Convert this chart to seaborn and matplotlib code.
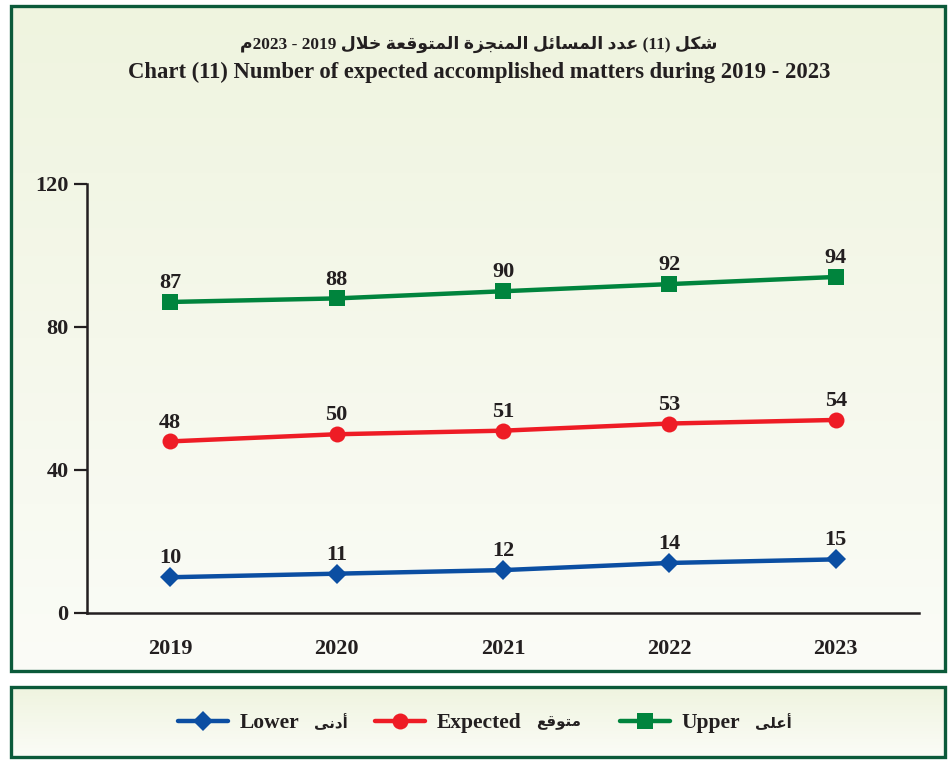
import re
import numpy as np
import pandas as pd
import matplotlib
matplotlib.use("Agg")
import matplotlib.pyplot as plt
from matplotlib.patches import Rectangle
from matplotlib.colors import LinearSegmentedColormap
import seaborn as sns

# ---------------- data ----------------
years = ["2019", "2020", "2021", "2022", "2023"]
lower = [10, 11, 12, 14, 15]
expected = [48, 50, 51, 53, 54]
upper = [87, 88, 90, 92, 94]
y_ticks = [0, 40, 80, 120]
series_en = ["Lower", "Expected", "Upper"]
series_ar = ["أدنى", "متوقع", "أعلى"]
title_ar = "شكل (11) عدد المسائل المنجزة المتوقعة خلال 2019 - 2023م"
title_en = "Chart (11) Number of expected accomplished matters during 2019 - 2023"

# ---------------- minimal Arabic shaping ----------------
AR_FORMS = {
    'ا': ('\uFE8D', '\uFE8E', None, None),
    'أ': ('\uFE83', '\uFE84', None, None),
    'د': ('\uFEA9', '\uFEAA', None, None),
    'ز': ('\uFEAF', '\uFEB0', None, None),
    'و': ('\uFEED', '\uFEEE', None, None),
    'ة': ('\uFE93', '\uFE94', None, None),
    'ى': ('\uFEEF', '\uFEF0', None, None),
    'ش': ('\uFEB5', '\uFEB6', '\uFEB7', '\uFEB8'),
    'ك': ('\uFED9', '\uFEDA', '\uFEDB', '\uFEDC'),
    'ل': ('\uFEDD', '\uFEDE', '\uFEDF', '\uFEE0'),
    'ع': ('\uFEC9', '\uFECA', '\uFECB', '\uFECC'),
    'م': ('\uFEE1', '\uFEE2', '\uFEE3', '\uFEE4'),
    'س': ('\uFEB1', '\uFEB2', '\uFEB3', '\uFEB4'),
    'ئ': ('\uFE89', '\uFE8A', '\uFE8B', '\uFE8C'),
    'ن': ('\uFEE5', '\uFEE6', '\uFEE7', '\uFEE8'),
    'ج': ('\uFE9D', '\uFE9E', '\uFE9F', '\uFEA0'),
    'ت': ('\uFE95', '\uFE96', '\uFE97', '\uFE98'),
    'ق': ('\uFED5', '\uFED6', '\uFED7', '\uFED8'),
    'خ': ('\uFEA5', '\uFEA6', '\uFEA7', '\uFEA8'),
}
LAM_ALEF = {'ا': ('\uFEFB', '\uFEFC'), 'أ': ('\uFEF7', '\uFEF8')}


def shape_word(w):
    units = []
    i = 0
    while i < len(w):
        c = w[i]
        if c == 'ل' and i + 1 < len(w) and w[i + 1] in LAM_ALEF:
            units.append(('LA', w[i + 1]))
            i += 2
        else:
            units.append(('C', c))
            i += 1

    def joins_left(u):
        if u[0] == 'LA':
            return False
        return u[1] in AR_FORMS and AR_FORMS[u[1]][2] is not None

    def is_ar(u):
        return u[0] == 'LA' or u[1] in AR_FORMS

    out = []
    for k, u in enumerate(units):
        prev = k > 0 and joins_left(units[k - 1])
        nxt = k + 1 < len(units) and is_ar(units[k + 1])
        if u[0] == 'LA':
            out.append(LAM_ALEF[u[1]][1 if prev else 0])
            continue
        c = u[1]
        if c not in AR_FORMS:
            out.append(c)
            continue
        iso, fin, ini, med = AR_FORMS[c]
        can_next = ini is not None and nxt
        if prev and can_next:
            out.append(med)
        elif prev:
            out.append(fin)
        elif can_next:
            out.append(ini)
        else:
            out.append(iso)
    return ''.join(out)


def rtl(text):
    tokens = text.split(' ')
    vis = []
    for t in reversed(tokens):
        runs = re.findall(r'[\u0600-\u06FF]+|[^\u0600-\u06FF]+', t)
        parts = []
        for r in reversed(runs):
            if re.match(r'[\u0600-\u06FF]', r):
                parts.append(shape_word(r)[::-1])
            else:
                parts.append(r)
        vis.append(''.join(parts))
    return ' '.join(vis)


# ---------------- style ----------------
sns.set_theme(style="white")
SERIF = ['Liberation Serif', 'DejaVu Sans']
plt.rcParams['font.family'] = SERIF
plt.rcParams['font.weight'] = 'bold'
TXT = '#231f20'
GREEN_BORDER = '#0b5a3a'
colors = ['#0b4ea2', '#ee1c25', '#00843d']
markers = ['D', 'o', 's']
msizes = [10.5, 11.5, 12]
NUM_FS = 16

W, H = 948, 761
fig = plt.figure(figsize=(W / 100, H / 100), dpi=100)
fig.patch.set_facecolor('white')

# background panels (pixel coordinates)
bg = fig.add_axes([0, 0, 1, 1], zorder=-10)
bg.axis('off')
cmap = LinearSegmentedColormap.from_list('bgrad', ['#eff4df', '#fbfcf7'])
grad = np.linspace(0, 1, 256).reshape(-1, 1)
for (x0, y0, x1, y1) in [(11, 6, 945, 671), (11, 687, 945, 757)]:
    bg.imshow(grad, cmap=cmap, aspect='auto', extent=(x0, x1, y1, y0), zorder=0)
    bg.add_patch(Rectangle((x0, y0), x1 - x0, y1 - y0, fill=False,
                           edgecolor=GREEN_BORDER, linewidth=2.4, zorder=2))
bg.set_xlim(0, W)
bg.set_ylim(H, 0)

# titles
fig.text(479 / W, 1 - 44 / H, rtl(title_ar), ha='center', va='center',
         fontsize=12.4, fontweight='bold', color=TXT, family=SERIF)
fig.text(479 / W, 1 - 72 / H, title_en, ha='center', va='center',
         fontsize=16.3, fontweight='bold', color=TXT, family=SERIF)

# main axes
ax_l, ax_r, ax_t, ax_b = 87, 919, 184, 613
ax = fig.add_axes([ax_l / W, 1 - ax_b / H, (ax_r - ax_l) / W, (ax_b - ax_t) / H])
ax.patch.set_alpha(0)

pos = list(range(len(years)))
all_vals = [lower, expected, upper]
for vals, en, col, mk, ms in zip(all_vals, series_en, colors, markers, msizes):
    df = pd.DataFrame({'pos': pos, 'value': vals})
    sns.lineplot(data=df, x='pos', y='value', ax=ax, color=col, linewidth=3.2,
                 marker=mk, markersize=ms, markeredgewidth=0,
                 label=en, clip_on=False, zorder=3)
    for p, v in zip(pos, vals):
        ax.annotate(str(v), (p, v), xytext=(0, 10), textcoords='offset points',
                    ha='center', va='baseline', fontsize=NUM_FS, fontweight='bold',
                    color=TXT)

ax.set_xlim(-0.5, len(years) - 0.5)
ax.set_ylim(0, 120)
ax.set_yticks(y_ticks)
ax.set_yticklabels([str(t) for t in y_ticks], fontsize=NUM_FS, fontweight='bold', color=TXT)
ax.set_xticks(np.arange(-0.5, len(years), 1.0))
ax.set_xticklabels([''] * (len(years) + 1))
ax.set_xticks(pos, minor=True)
ax.set_xticklabels(years, minor=True, fontsize=NUM_FS, fontweight='bold', color=TXT)
ax.tick_params(axis='x', which='major', direction='out', length=6.5, width=1.6, color=TXT)
ax.tick_params(axis='x', which='minor', length=0, pad=19)
ax.tick_params(axis='y', direction='out', length=9.4, width=1.6, color=TXT, pad=4, left=True)
ax.set_xlabel('')
ax.set_ylabel('')
for s in ['top', 'right']:
    ax.spines[s].set_visible(False)
for s in ['left', 'bottom']:
    ax.spines[s].set_color(TXT)
    ax.spines[s].set_linewidth(1.8)
ax.grid(False)

handles, labels = ax.get_legend_handles_labels()
if ax.legend_:
    ax.legend_.remove()
LEG_FS = 15.5
leg_x = [178, 375, 620]  # left edge of each legend handle (pixels)
legs = []
for h, lab, lx in zip(handles, labels, leg_x):
    lg = fig.legend([h], [lab], loc='center left', bbox_to_anchor=(lx / W, 1 - 723 / H),
                    frameon=False, handlelength=2.3, handletextpad=0.55,
                    borderpad=0, borderaxespad=0,
                    prop={'family': SERIF, 'weight': 'bold', 'size': LEG_FS})
    for t in lg.get_texts():
        t.set_color(TXT)
    legs.append(lg)

# Arabic part of each legend label, placed right after the English word
fig.canvas.draw()
renderer = fig.canvas.get_renderer()
for lg, ar in zip(legs, series_ar):
    t = lg.get_texts()[0]
    bb = t.get_window_extent(renderer)
    fig.text((bb.x1 + 15) / W, (bb.y0 + bb.y1) / 2 / H, rtl(ar), ha='left', va='center',
             fontsize=10.8, fontweight='bold', color=TXT, family=SERIF)

fig.savefig('out.png', dpi=100, facecolor='white')
